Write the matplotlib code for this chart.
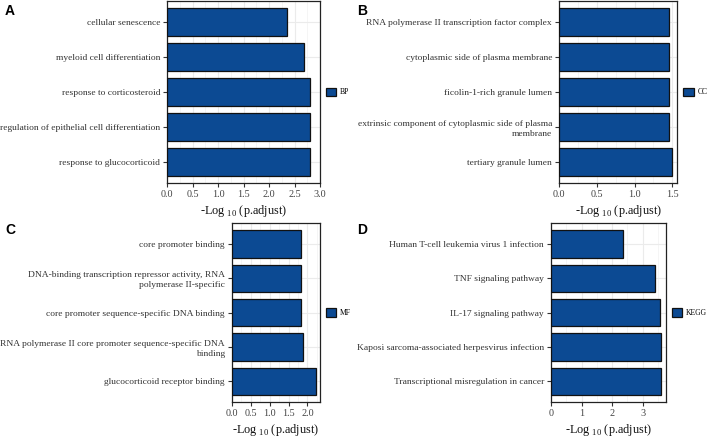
import matplotlib
matplotlib.use("Agg")
import matplotlib.pyplot as plt
from matplotlib.ticker import MultipleLocator, FormatStrFormatter
import numpy as np

plt.rcParams['font.family'] = ['Liberation Serif', 'DejaVu Serif']
plt.rcParams['mathtext.fontset'] = 'custom'
plt.rcParams['mathtext.rm'] = 'Liberation Serif'

# GO / KEGG enrichment terms (top to bottom) and -log10(p.adjust)
bp_terms = ["cellular senescence", "myeloid cell differentiation", "response to corticosteroid",
            "regulation of epithelial cell differentiation", "response to glucocorticoid"]
bp_vals = [2.35, 2.69, 2.81, 2.81, 2.81]

cc_terms = ["RNA polymerase II transcription factor complex", "cytoplasmic side of plasma membrane",
            "ficolin-1-rich granule lumen",
            "extrinsic component of cytoplasmic side of plasma\nmembrane",
            "tertiary granule lumen"]
cc_vals = [1.46, 1.46, 1.46, 1.46, 1.49]

mf_terms = ["core promoter binding",
            "DNA-binding transcription repressor activity, RNA\npolymerase II-specific",
            "core promoter sequence-specific DNA binding",
            "RNA polymerase II core promoter sequence-specific DNA\nbinding",
            "glucocorticoid receptor binding"]
mf_vals = [1.84, 1.84, 1.84, 1.87, 2.22]

kegg_terms = ["Human T-cell leukemia virus 1 infection", "TNF signaling pathway",
              "IL-17 signaling pathway", "Kaposi sarcoma-associated herpesvirus infection",
              "Transcriptional misregulation in cancer"]
kegg_vals = [2.35, 3.40, 3.57, 3.59, 3.59]

W, H = 708, 440
fig = plt.figure(figsize=(W / 100, H / 100), dpi=100)

BAR_COLOR = "#0C4A93"


def px_axes(x0, x1, y0, y1):
    ax = fig.add_axes([x0 / W, 1 - y1 / H, (x1 - x0) / W, (y1 - y0) / H])
    ax.width_px = x1 - x0
    return ax


def panel(ax, terms, vals, name, xmax, major, minor, fmt):
    pos = np.arange(1, len(terms) + 1)
    ax.barh(pos, vals, height=0.8, color=BAR_COLOR, edgecolor="#111111",
            linewidth=0.9, label=name, zorder=3)
    ax.set_ylim(len(terms) + 0.6, 0.4)
    ax.set_xlim(0, xmax)
    ax.set_yticks(pos)
    ax.set_yticklabels(terms, fontsize=6.8, color="#333333", linespacing=1.3)
    ax.xaxis.set_major_locator(MultipleLocator(major))
    ax.xaxis.set_minor_locator(MultipleLocator(minor))
    ax.xaxis.set_major_formatter(FormatStrFormatter(fmt))
    for lab in ax.get_xticklabels():
        lab.set_fontsize(7.3)
        lab.set_color("#444444")
    ax.tick_params(axis='both', which='major', length=3, width=0.8, color="#333333", pad=2)
    ax.tick_params(axis='x', which='minor', length=0)
    ax.grid(True, which='major', color="#EBEBEB", linewidth=0.8, zorder=0)
    ax.grid(True, which='minor', axis='x', color="#F2F2F2", linewidth=0.5, zorder=0)
    ax.set_axisbelow(True)
    for sp in ax.spines.values():
        sp.set_color("#222222")
        sp.set_linewidth(0.9)
    ax.set_xlabel(r"-Log $_{\mathrm{10}}$ (p.adjust)", fontsize=8.8, color="#111111", labelpad=3)
    # legend sits ~6 px right of the panel
    ax.legend(loc="center left", bbox_to_anchor=(1 + 6 / ax.width_px, 0.5), frameon=False,
              fontsize=5.5, handlelength=1.35, handleheight=1.35, handletextpad=0.5,
              borderaxespad=0, borderpad=0)


axA = px_axes(167.3, 320, 1, 183)
panel(axA, bp_terms, bp_vals, "BP", 3.0, 0.5, 0.25, '%.1f')
axB = px_axes(559, 677.3, 1, 183)
panel(axB, cc_terms, cc_vals, "CC", 1.565, 0.5, 0.25, '%.1f')
axC = px_axes(231.7, 320, 223.3, 402)
panel(axC, mf_terms, mf_vals, "MF", 2.33, 0.5, 0.25, '%.1f')
axD = px_axes(551, 666, 223.3, 402)
panel(axD, kegg_terms, kegg_vals, "KEGG", 3.77, 1, 0.5, '%d')

for lab, x, y in [("A", 5, 4), ("B", 357, 4), ("C", 5, 223), ("D", 357, 223)]:
    fig.text(x / W, 1 - y / H, lab, fontsize=10, fontweight="bold",
             family="Liberation Sans", va="top", ha="left")

fig.savefig("out.png", dpi=100)
